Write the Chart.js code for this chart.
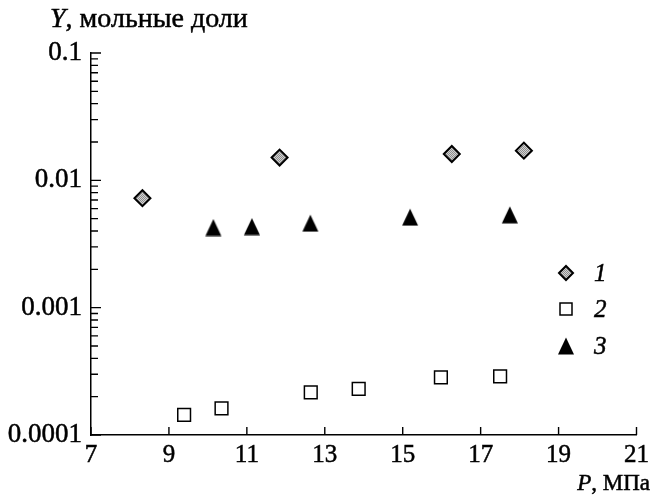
<!DOCTYPE html>
<html>
<head>
<meta charset="utf-8">
<script src="https://cdn.jsdelivr.net/npm/chart.js@4/dist/chart.umd.min.js"></script>
<style>
  html, body { margin: 0; padding: 0; background: #fff; }
  #wrap { width: 654px; height: 496px; position: relative; }
</style>
</head>
<body>
<div id="wrap"><canvas id="c" width="654" height="496"></canvas></div>
<script>
// Solubility data: mole fraction Y against pressure P (MPa)
const pressure1 = [8.32, 11.84, 16.26, 18.11];
const fraction1 = [0.00724, 0.0151, 0.0161, 0.0171];

const pressure2 = [9.39, 10.35, 12.64, 13.87, 15.98, 17.5];
const fraction2 = [0.000144, 0.000162, 0.000216, 0.00023, 0.000284, 0.000289];

const pressure3 = [10.14, 11.13, 12.63, 15.19, 17.75];
const fraction3 = [0.00426, 0.00433, 0.00461, 0.00514, 0.00536];

const seriesLabels = ['1', '2', '3'];
const xTicks = [7, 9, 11, 13, 15, 17, 19, 21];
const yTicks = [0.0001, 0.001, 0.01, 0.1];

const INK = '#000';
const FAMILY = '"Liberation Serif", "Times New Roman", serif';
const font = (size, italic) => (italic ? 'italic ' : '') + size + 'px ' + FAMILY;

// fine gray stipple used to fill the diamonds
function stipple() {
  const c = document.createElement('canvas');
  c.width = 2; c.height = 2;
  const g = c.getContext('2d');
  g.fillStyle = '#d2d2d2'; g.fillRect(0, 0, 2, 2);
  g.fillStyle = '#8e8e8e'; g.fillRect(0, 0, 1, 1); g.fillRect(1, 1, 1, 1);
  return g.createPattern(c, 'repeat');
}
const grayFill = stipple();

// slightly tall solid triangle marker
function triangleImage() {
  const c = document.createElement('canvas');
  c.width = 18; c.height = 18;
  const g = c.getContext('2d');
  g.fillStyle = INK;
  g.beginPath();
  g.moveTo(9, 0.5);
  g.lineTo(17, 17.5);
  g.lineTo(1, 17.5);
  g.closePath();
  g.fill();
  return c;
}
const triMarker = triangleImage();

const toPoints = (xs, ys) => xs.map((x, i) => ({ x: x, y: ys[i] }));

// draws a run of [text, italic] pieces starting at x, slightly inked
function textRun(ctx, parts, x, y, size) {
  parts.forEach(([t, it]) => {
    ctx.font = font(size, it);
    ctx.fillText(t, x, y);
    ctx.strokeText(t, x, y);
    x += ctx.measureText(t).width;
  });
}
function runWidth(ctx, parts, size) {
  return parts.reduce((w, [t, it]) => { ctx.font = font(size, it); return w + ctx.measureText(t).width; }, 0);
}

// inward tick marks, axis titles and the legend
const decorations = {
  id: 'decorations',
  afterDraw(chart) {
    const ctx = chart.ctx;
    const xs = chart.scales.x, ys = chart.scales.y;
    const area = chart.chartArea;
    ctx.save();
    ctx.strokeStyle = INK;
    ctx.lineWidth = 1.4;
    ctx.beginPath();
    // y: decade ticks plus 2..9 minors
    yTicks.forEach((d, i) => {
      const py = ys.getPixelForValue(d);
      ctx.moveTo(area.left, py); ctx.lineTo(area.left + 10, py);
      if (i < yTicks.length - 1) {
        for (let m = 2; m <= 9; m++) {
          const pm = ys.getPixelForValue(d * m);
          ctx.moveTo(area.left, pm); ctx.lineTo(area.left + 7, pm);
        }
      }
    });
    // x: ticks pointing up
    xTicks.forEach(v => {
      const px = xs.getPixelForValue(v);
      ctx.moveTo(px, area.bottom); ctx.lineTo(px, area.bottom - 8);
    });
    ctx.stroke();

    ctx.fillStyle = INK;
    ctx.lineWidth = 0.5;
    ctx.textBaseline = 'alphabetic';
    // y title
    textRun(ctx, [['Y', true], [', мольные доли', false]], 50, 27, 28);
    // x title, right aligned
    const xParts = [['P', true], [', МПа', false]];
    textRun(ctx, xParts, 650 - runWidth(ctx, xParts, 23), 490, 23);

    // legend
    const lx = 566;
    const rows = [273, 309, 346];
    ctx.beginPath();
    ctx.moveTo(lx - 7, rows[0]); ctx.lineTo(lx, rows[0] - 7);
    ctx.lineTo(lx + 7, rows[0]); ctx.lineTo(lx, rows[0] + 7);
    ctx.closePath();
    ctx.fillStyle = grayFill; ctx.fill();
    ctx.lineWidth = 2; ctx.strokeStyle = INK; ctx.stroke();
    ctx.beginPath();
    ctx.rect(lx - 6, rows[1] - 6, 12, 12);
    ctx.fillStyle = '#fff'; ctx.fill();
    ctx.lineWidth = 1.5; ctx.stroke();
    ctx.drawImage(triMarker, lx - 9, rows[2] - 9);

    ctx.fillStyle = INK;
    ctx.lineWidth = 0.5;
    ctx.textBaseline = 'middle';
    seriesLabels.forEach((s, i) => textRun(ctx, [[s, true]], 594, rows[i] + 1, 25));
    ctx.restore();
  }
};

function build() {
  new Chart(document.getElementById('c'), {
    type: 'scatter',
    data: {
      datasets: [
        {
          label: seriesLabels[0],
          data: toPoints(pressure1, fraction1),
          pointStyle: 'rectRot',
          pointRadius: 8,
          backgroundColor: grayFill,
          borderColor: INK,
          borderWidth: 2
        },
        {
          label: seriesLabels[1],
          data: toPoints(pressure2, fraction2),
          pointStyle: 'rect',
          pointRadius: 9,
          backgroundColor: '#fff',
          borderColor: INK,
          borderWidth: 1.5
        },
        {
          label: seriesLabels[2],
          data: toPoints(pressure3, fraction3),
          pointStyle: triMarker,
          pointRadius: 9,
          backgroundColor: INK,
          borderColor: INK
        }
      ]
    },
    options: {
      responsive: false,
      animation: false,
      devicePixelRatio: 1,
      layout: { padding: { left: 0, right: 15, top: 53, bottom: 0 } },
      plugins: {
        legend: { display: false },
        tooltip: { enabled: false },
        title: { display: false }
      },
      scales: {
        x: {
          type: 'linear',
          min: 7,
          max: 21,
          afterBuildTicks: s => { s.ticks = xTicks.map(v => ({ value: v })); },
          afterFit: s => { s.height = 61; },
          grid: { display: true, drawOnChartArea: false, drawTicks: false },
          border: { display: true, color: INK, width: 1.5 },
          ticks: {
            color: INK,
            textStrokeColor: INK,
            textStrokeWidth: 0.5,
            padding: 5,
            maxRotation: 0,
            autoSkip: false,
            font: { family: FAMILY, size: 25 }
          }
        },
        y: {
          type: 'logarithmic',
          min: 0.0001,
          max: 0.1,
          afterBuildTicks: s => { s.ticks = yTicks.map(v => ({ value: v })); },
          afterFit: s => { s.width = 91; },
          grid: { display: true, drawOnChartArea: false, drawTicks: false },
          border: { display: true, color: INK, width: 1.5 },
          ticks: {
            color: INK,
            textStrokeColor: INK,
            textStrokeWidth: 0.5,
            padding: 9,
            autoSkip: false,
            font: { family: FAMILY, size: 27 },
            callback: v => String(yTicks.find(t => Math.abs(Math.log10(t) - Math.log10(v)) < 1e-6))
          }
        }
      }
    },
    plugins: [decorations]
  });
}

Promise.all([
  document.fonts.load('25px "Liberation Serif"'),
  document.fonts.load('italic 25px "Liberation Serif"')
]).then(build, build);
</script>
</body>
</html>
